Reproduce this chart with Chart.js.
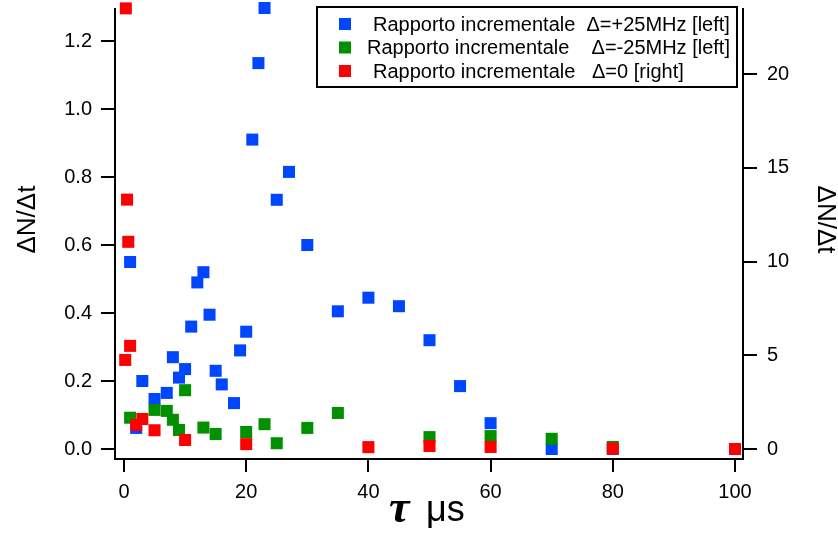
<!DOCTYPE html>
<html>
<head>
<meta charset="utf-8">
<script src="https://cdn.jsdelivr.net/npm/chart.js@4/dist/chart.umd.min.js"></script>
<style>
  html, body { margin: 0; padding: 0; background: #fff; }
  #wrap { width: 838px; height: 539px; }
</style>
</head>
<body>
<div id="wrap"><canvas id="chart"></canvas></div>
<script>
// tau in µs
const tauPlus = [1, 2, 3, 5, 7, 8, 9, 10, 11, 12, 13, 14, 15, 16, 18, 19, 20, 21, 22, 23, 25, 27, 30, 35, 40, 45, 50, 55, 60, 70, 80];
const ratioPlus = [0.55, 0.062, 0.20, 0.147, 0.165, 0.27, 0.21, 0.235, 0.36, 0.49, 0.52, 0.395, 0.23, 0.19, 0.135, 0.29, 0.345, 0.91, 1.135, 1.297, 0.733, 0.815, 0.60, 0.405, 0.445, 0.42, 0.32, 0.185, 0.076, 0.0, 0.0];

const tauMinus = [1, 5, 7, 8, 9, 10, 13, 15, 20, 23, 25, 30, 35, 50, 60, 70, 80];
const ratioMinus = [0.092, 0.115, 0.112, 0.086, 0.056, 0.173, 0.063, 0.044, 0.05, 0.073, 0.017, 0.062, 0.106, 0.035, 0.038, 0.03, 0.006];

const tauZero = [0.2, 0.3, 0.5, 0.7, 1, 2, 3, 5, 10, 20, 40, 50, 60, 80, 100];
const ratioZero = [4.75, 23.5, 13.3, 11.05, 5.5, 1.28, 1.6, 1.0, 0.48, 0.26, 0.1, 0.16, 0.11, 0.02, 0.0];

const xTicks = [0, 20, 40, 60, 80, 100];
const leftTicks = [0, 0.2, 0.4, 0.6, 0.8, 1.0, 1.2];
const rightTicks = [0, 5, 10, 15, 20];

const seriesLabels = [
    'Rapporto incrementale  \u0394=+25MHz [left]',
    'Rapporto incrementale    \u0394=-25MHz [left]',
    'Rapporto incrementale   \u0394=0 [right]'
];
const seriesColors = ['#0046ff', '#009000', '#ff0000'];

const FONT = '"Liberation Sans", Arial, sans-serif';

function toPoints(xs, ys) {
    return xs.map((x, i) => ({ x: x, y: ys[i] }));
}

// legend in a framed box + the mixed-font x title
const boxLegend = {
    id: 'boxLegend',
    afterDraw(chart) {
        const ctx = chart.ctx;
        ctx.save();
        ctx.fillStyle = '#fff';
        ctx.fillRect(317, 7, 420, 80);
        ctx.strokeStyle = '#000';
        ctx.lineWidth = 2;
        ctx.strokeRect(317, 7, 420, 80);

        ctx.font = '20px ' + FONT;
        ctx.textBaseline = 'middle';
        const textX = [373, 367, 373];
        chart.data.datasets.forEach((ds, i) => {
            const y = 24 + i * 23.5;
            ctx.fillStyle = ds.backgroundColor;
            ctx.fillRect(339, y - 6, 12, 12);
            ctx.fillStyle = '#000';
            ctx.fillText(ds.label, textX[i], y + 1);
        });

        ctx.textBaseline = 'alphabetic';
        ctx.font = 'italic bold 46px "Liberation Serif", serif';
        ctx.fillText('\u03c4', 389, 522);
        ctx.font = '36px ' + FONT;
        ctx.fillText('\u03bcs', 426, 521);
        ctx.restore();
    }
};

const axisLook = {
    border: { display: true, color: '#000', width: 2 },
    grid: { drawOnChartArea: false, drawTicks: true, color: '#000', lineWidth: 2 }
};

function noOverhang(s) {
    s.paddingTop = 0; s.paddingBottom = 0; s.paddingLeft = 0; s.paddingRight = 0;
}

new Chart(document.getElementById('chart'), {
    type: 'scatter',
    data: {
        datasets: [
            { label: seriesLabels[0], data: toPoints(tauPlus, ratioPlus), yAxisID: 'yL', order: 2,
              backgroundColor: seriesColors[0] },
            { label: seriesLabels[1], data: toPoints(tauMinus, ratioMinus), yAxisID: 'yL', order: 1,
              backgroundColor: seriesColors[1] },
            { label: seriesLabels[2], data: toPoints(tauZero, ratioZero), yAxisID: 'yR', order: 0,
              backgroundColor: seriesColors[2] }
        ]
    },
    options: {
        responsive: true,
        maintainAspectRatio: false,
        animation: false,
        layout: { padding: { top: 9, left: 0, right: 0, bottom: 0 } },
        elements: {
            point: { pointStyle: 'rect', radius: 8.5, hoverRadius: 8.5, borderWidth: 0 }
        },
        datasets: { scatter: { clip: false } },
        plugins: { legend: { display: false }, tooltip: { enabled: false } },
        scales: {
            x: {
                type: 'linear', position: 'bottom', min: -1.473, max: 101.31,
                border: axisLook.border,
                grid: Object.assign({ tickLength: 13 }, axisLook.grid),
                ticks: { color: '#000', padding: 8, font: { size: 20, family: FONT }, maxRotation: 0,
                         callback: v => String(v) },
                afterBuildTicks: s => { s.ticks = xTicks.map(v => ({ value: v })); },
                afterFit: s => { s.height = 80; noOverhang(s); }
            },
            yL: {
                type: 'linear', position: 'left', min: -0.02941, max: 1.29412,
                border: axisLook.border,
                grid: Object.assign({ tickLength: 14 }, axisLook.grid),
                ticks: { color: '#000', padding: 9, font: { size: 20, family: FONT },
                         callback: v => v.toFixed(1) },
                title: { display: true, text: '    \u0394N/\u0394t', color: '#000',
                         font: { size: 26, family: FONT, lineHeight: 1 }, padding: { top: 15, bottom: 0 } },
                afterBuildTicks: s => { s.ticks = leftTicks.map(v => ({ value: v })); },
                afterFit: s => { s.width = 115; noOverhang(s); }
            },
            yR: {
                type: 'linear', position: 'right', min: -0.5333, max: 23.4667,
                border: axisLook.border,
                grid: Object.assign({ tickLength: 14 }, axisLook.grid),
                ticks: { color: '#000', padding: 10, font: { size: 20, family: FONT },
                         callback: v => String(v) },
                title: { display: true, text: '\u0394N/\u0394t    ', color: '#000',
                         font: { size: 26, family: FONT, lineHeight: 1 }, padding: { top: 0, bottom: 0 } },
                afterBuildTicks: s => { s.ticks = rightTicks.map(v => ({ value: v })); },
                afterFit: s => { s.width = 95; noOverhang(s); }
            }
        }
    },
    plugins: [boxLegend]
});
</script>
</body>
</html>
